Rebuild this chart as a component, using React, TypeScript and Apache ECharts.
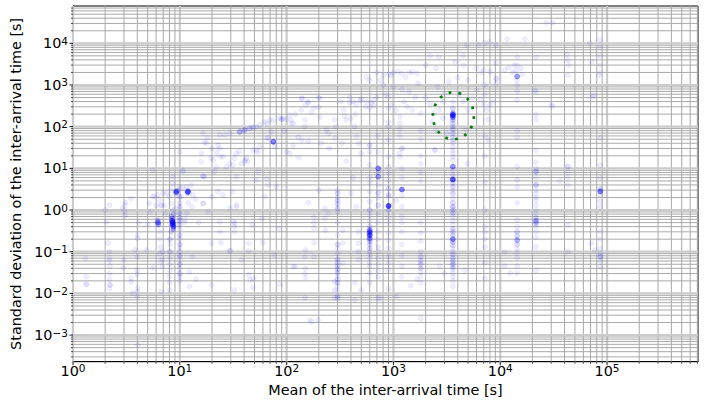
import { useEffect, useRef } from "react";
import * as echarts from "echarts";

// [mean inter-arrival time (s), std of inter-arrival time (s), overlapping points]
type Pt = [number, number, number];

const X_MIN = 1;
const X_MAX = 7.1e5;
const Y_MIN = 2.3e-4;
const Y_MAX = 7.85e4;

const xDecades = [1, 10, 100, 1000, 10000, 100000];
const yDecades = [0.0001, 0.001, 0.01, 0.1, 1, 10, 100, 1000, 10000];
const minorSteps = [2, 3, 4, 5, 6, 7, 8, 9];

const xTitle = "Mean of the inter-arrival time [s]";
const yTitle = "Standard deviation of the inter-arrival time [s]";

// highlighted host (dotted ring)
const highlight: [number, number] = [3640, 182];

const underTwenty: Pt[] = [
  [1.31, 0.069, 1], [1.33, 0.025, 1], [1.33, 0.0165, 2],
  [2.05, 0.52, 1], [2.13, 0.16, 1], [2.2, 1.32, 1], [2.2, 0.1, 1], [2.2, 0.07, 1], [2.2, 0.06, 1],
  [2.22, 0.045, 1], [2.2, 0.03, 1], [2.2, 0.022, 1], [2.22, 0.016, 2], [2.2, 0.013, 1], [2.0, 1.0, 1],
  [3.05, 1.3, 1], [3.05, 0.95, 1], [3.1, 0.75, 1], [2.9, 1.1, 1], [3.0, 0.063, 1], [2.95, 0.041, 1], [3.1, 1.5, 1],
  [3.5, 0.023, 1], [3.5, 0.019, 1], [3.6, 0.0103, 1], [4.06, 0.0135, 1], [3.8, 0.11, 1], [4.0, 0.075, 1],
  [4.06, 0.00058, 1], [4.0, 0.036, 1], [4.0, 0.028, 1], [4.0, 0.011, 1], [4.0, 0.0083, 1], [4.0, 0.25, 1],
  [4.0, 0.21, 1], [3.5, 1.9, 1], [4.1, 0.5, 1],
  [4.86, 0.11, 1], [5.0, 0.45, 1], [5.2, 1.45, 1], [5.8, 2.1, 1], [6.0, 1.3, 1], [5.6, 0.041, 1],
  [5.6, 2.1, 1], [5.6, 9.1, 1], [5.3, 0.9, 1],
  [6.25, 0.5, 8], [6.3, 0.45, 5], [6.2, 0.55, 3], [6.4, 0.6, 1], [6.25, 2.3, 1], [6.4, 1.74, 1], [6.6, 1.3, 1],
  [6.5, 0.3, 1], [6.5, 0.2, 1], [6.6, 0.13, 1], [6.5, 0.09, 1], [6.6, 0.06, 1], [6.7, 0.011, 1], [6.85, 0.1, 1],
  [6.85, 0.065, 1], [6.85, 0.045, 1], [6.75, 1.3, 1], [7.0, 2.5, 1], [7.2, 1.3, 1], [7.3, 0.83, 1],
  [8.6, 0.5, 20], [8.6, 0.45, 18], [8.5, 0.55, 14], [8.7, 0.4, 10], [8.5, 0.62, 6], [8.7, 0.35, 4], [8.4, 0.7, 3],
  [8.8, 0.8, 2], [8.3, 0.3, 2], [8.1, 0.2, 2], [8.1, 0.15, 1], [8.1, 0.1, 2], [8.1, 0.07, 1], [8.1, 0.05, 1],
  [8.1, 0.035, 1], [8.0, 0.025, 1], [8.0, 0.018, 1], [8.1, 0.012, 1], [7.5, 2.5, 1], [8.0, 2.1, 1], [8.3, 1.45, 1],
  [8.3, 3.0, 1], [8.6, 4.4, 1], [8.6, 6.3, 1], [8.6, 1.0, 1], [9.0, 1.1, 1],
  [9.3, 2.75, 12], [9.2, 2.6, 3], [9.4, 2.9, 2],
  [9.8, 3.0, 1], [10.0, 3.6, 1], [9.9, 2.1, 2], [10.0, 1.5, 1], [10.0, 1.2, 2], [10.0, 0.85, 2], [10.0, 0.65, 2],
  [10.0, 0.55, 2], [9.9, 0.45, 2], [10.0, 0.35, 1], [10.0, 0.25, 2], [10.0, 0.2, 1], [10.0, 0.15, 2], [10.0, 0.12, 1],
  [10.0, 0.1, 1], [10.0, 0.08, 2], [10.0, 0.065, 1], [10.0, 0.05, 2], [10.0, 0.04, 1], [10.0, 0.03, 2],
  [10.0, 0.025, 1], [10.0, 0.02, 1], [10.0, 25, 1], [10.7, 9.1, 1], [10.7, 8.3, 1],
  [11.9, 2.75, 14], [11.8, 2.6, 3], [12.0, 2.9, 2], [10.7, 3.3, 1], [11.5, 3.6, 1], [12.8, 4.0, 1], [12.3, 2.5, 1],
  [13.3, 2.3, 1], [10.3, 2.1, 1], [12, 1.5, 1], [11.6, 0.83, 1], [13, 1.2, 1], [12.3, 0.033, 1], [12.3, 0.0145, 1],
  [13.1, 0.076, 1], [14.1, 0.022, 1], [11.0, 0.5, 1], [11.2, 0.6, 1],
  [16.5, 6.5, 2], [17, 6.3, 1], [16.5, 1.45, 1], [16.6, 1.45, 1], [18.3, 0.91, 1], [19.8, 0.016, 1], [19.9, 0.16, 1],
  [20, 2.1, 1], [15.9, 23, 1], [17.7, 40, 1], [17.1, 42, 1], [19.6, 17.7, 1], [15.8, 14.4, 1], [15, 0.5, 1], [14, 1.8, 1],
  [16.5, 70, 1], [18, 55, 1], [20, 30, 1], [22, 24, 1], [24, 19, 1],
];

const twentyToTwoFifty: Pt[] = [
  [22.8, 36, 1], [23.6, 30, 1], [22, 11, 1], [21, 8.3, 1], [20.5, 15.8, 1], [25.4, 19, 1], [29.3, 13, 1], [27.3, 11, 1],
  [31.5, 12, 1], [33.8, 23, 1], [32.5, 17.4, 1], [37.7, 13, 1], [40.4, 14.4, 1], [42, 17.4, 1], [33.8, 6.3, 1],
  [54, 8.3, 1], [52, 5.2, 1], [65, 5.75, 1], [67, 4, 1], [80, 3.6, 1], [29.3, 69, 1], [26.3, 63, 1], [23.6, 63, 1],
  [36.4, 75, 4], [40.4, 83, 4], [45, 91, 2], [48.5, 96, 2], [56, 109, 1], [65, 120, 1], [75, 144, 1], [86, 158, 1],
  [52, 27, 1], [54, 25, 1], [65, 52, 1], [67, 55, 1], [75, 43.5, 10], [72, 75, 1], [62.5, 130, 1], [69.5, 144, 1],
  [43.5, 14.4, 1], [52, 100, 1], [48.5, 27.5, 1], [56, 33, 1], [41, 16, 1], [36, 25, 1],
  [78, 33, 1], [107, 23, 1], [138, 48, 1], [107, 190, 1], [115, 120, 1], [90, 150, 2],
  [22.8, 2.75, 1], [25.4, 2.3, 1], [31, 2.75, 1], [33.8, 1.2, 1], [34, 1.32, 1], [29.5, 1.1, 1], [62.5, 2.1, 1],
  [23.6, 0.52, 1], [23.8, 0.3, 1], [24.2, 0.165, 1], [29.5, 0.106, 2], [32.6, 0.48, 1], [32.6, 0.4, 1],
  [32.6, 0.3, 1], [32, 0.52, 1], [32.6, 0.012, 1], [37.8, 0.063, 1], [44, 0.16, 1], [44, 0.106, 1], [44, 0.028, 1],
  [45.5, 0.021, 1], [47.7, 0.44, 1], [48.5, 0.023, 1], [48.5, 0.0137, 1], [58.5, 0.63, 1], [60, 0.165, 1],
  [77, 0.083, 1], [84, 0.36, 1], [86, 0.0165, 1], [120, 0.044, 1], [115, 0.044, 1],
  [150, 0.11, 1], [148, 0.075, 1], [150, 0.04, 1], [148, 0.03, 1], [150, 0.024, 1], [148, 0.0078, 1],
  [172, 0.0021, 1], [197, 0.0023, 1], [165, 0.0023, 1], [180, 0.68, 1], [180, 0.5, 1], [180, 0.37, 1],
  [180, 0.165, 1], [180, 0.075, 1], [228, 1.1, 1], [228, 0.64, 1], [230, 0.33, 1], [245, 0.83, 1], [200, 3.0, 1],
  [160, 1.5, 1],
  [92, 160, 1], [100, 150, 1], [110, 145, 1], [128, 57, 1], [140, 480, 1], [158, 400, 1], [137, 250, 1],
  [148, 145, 1], [148, 100, 1], [205, 475, 1], [205, 170, 1], [235, 83, 1], [245, 69, 1], [138, 476, 1],
  [198, 500, 1], [150, 330, 1], [170, 220, 1], [200, 290, 1], [115, 35, 1], [100, 25, 1], [130, 18, 1],
  [95, 80, 1], [110, 120, 1], [120, 200, 1], [160, 45, 1], [210, 40, 1], [250, 30, 1], [160, 380, 1], [180, 280, 1],
];

const fourMinToFortyMin: Pt[] = [
  [300, 3, 1], [300, 2.5, 2], [300, 2, 1], [300, 1.7, 2], [300, 1.4, 2], [300, 1.1, 2], [300, 0.9, 1], [300, 0.5, 1],
  [300, 0.25, 1], [300, 0.15, 2], [300, 0.12, 1], [300, 0.09, 1], [300, 0.065, 2], [300, 0.055, 2], [300, 0.045, 2],
  [300, 0.038, 2], [300, 0.032, 2], [300, 0.027, 1], [300, 0.022, 2], [300, 0.018, 2], [300, 0.015, 1],
  [300, 0.012, 1], [300, 0.0085, 2], [300, 0.0075, 1],
  [281, 0.019, 1], [281, 0.012, 1], [281, 0.0078, 1], [335, 0.33, 1], [335, 0.16, 1], [335, 0.053, 1],
  [435, 0.018, 1], [435, 0.007, 1], [470, 0.3, 1], [470, 0.16, 1], [470, 0.1, 1], [470, 0.065, 1], [500, 0.012, 1],
  [280, 145, 1], [290, 100, 1], [285, 53, 1], [320, 400, 1], [340, 250, 1], [350, 180, 1], [360, 145, 1],
  [400, 160, 1], [430, 100, 1], [450, 60, 1], [470, 40, 1], [500, 23, 1], [390, 500, 1], [420, 400, 1],
  [450, 350, 1], [500, 450, 1], [550, 300, 1], [600, 280, 1], [650, 320, 1], [390, 380, 1], [440, 200, 1],
  [490, 430, 1], [560, 400, 1], [620, 370, 1], [330, 40, 1], [360, 15, 1], [420, 6, 1], [400, 2.5, 1], [450, 1.2, 1],
  [600, 36, 2], [600, 25, 1], [600, 12, 1], [600, 6, 1], [600, 4.4, 1], [600, 2.8, 1], [600, 1.6, 1], [600, 1.0, 2],
  [600, 0.75, 1], [600, 0.55, 1], [600, 0.4, 2], [600, 0.33, 8], [600, 0.29, 14], [600, 0.25, 14], [600, 0.21, 8],
  [600, 0.18, 3], [600, 0.15, 2], [600, 0.12, 2], [600, 0.1, 1], [600, 0.085, 1], [600, 0.07, 1], [600, 0.055, 1],
  [600, 0.045, 1], [600, 0.031, 1], [600, 0.018, 1], [560, 1570, 1], [600, 1300, 1],
  [720, 10, 8], [720, 8, 2], [720, 6.3, 6], [720, 4, 1], [720, 2.6, 2], [720, 2, 1], [720, 1.3, 2], [720, 0.8, 1],
  [720, 0.5, 1], [720, 0.3, 1], [720, 0.2, 1], [720, 0.13, 1], [720, 0.1, 1], [720, 0.07, 1], [720, 0.05, 1],
  [720, 0.035, 1], [720, 0.025, 1], [720, 0.0078, 1], [720, 60, 1], [720, 25, 1],
  [900, 520, 1], [900, 275, 1], [900, 130, 1], [900, 100, 1], [900, 48, 1], [900, 19, 1], [900, 11, 1],
  [900, 7.6, 1], [900, 5.2, 1], [900, 3.3, 2], [900, 2.3, 2], [900, 2.1, 1], [900, 1.25, 22], [900, 1.0, 2],
  [900, 0.69, 1], [900, 0.48, 1], [900, 0.28, 1], [900, 0.19, 1], [900, 0.12, 1], [900, 0.076, 1],
  [900, 0.053, 1], [900, 0.036, 1], [900, 0.013, 1], [750, 0.0076, 1], [1070, 0.0087, 1], [1070, 1.74, 1],
  [1150, 170, 1], [1150, 120, 1], [1150, 85, 1], [1150, 60, 1], [1200, 30, 2], [1150, 23, 1], [1150, 19, 1],
  [1200, 10, 1], [1200, 6, 1], [1200, 3.1, 10], [1200, 2.2, 1], [1200, 1.2, 1], [1200, 0.7, 1], [1200, 0.5, 1],
  [1200, 0.3, 1], [1200, 0.15, 1], [1200, 0.08, 1], [1200, 0.045, 1], [1200, 0.025, 1],
  [1800, 80, 1], [1800, 50, 1], [1800, 20, 1], [1800, 13, 1], [1800, 8, 1], [1800, 5, 1], [1800, 0.5, 1],
  [1800, 0.28, 1], [1800, 0.18, 1], [1800, 0.1, 1], [1800, 0.076, 2], [1800, 0.06, 2], [1800, 0.05, 2],
  [1800, 0.04, 2], [1800, 0.032, 1], [1800, 0.025, 1], [1800, 0.018, 1], [1800, 0.0025, 1], [1450, 0.0153, 1],
  [1670, 0.022, 1],
  [700, 2000, 1], [800, 1700, 1], [900, 1800, 1], [1000, 2000, 1], [1200, 1900, 1], [1400, 2000, 1],
  [1650, 1900, 1], [750, 1300, 1], [950, 1700, 1], [1100, 2100, 1], [1300, 1550, 1], [1500, 2100, 1],
  [1000, 900, 1], [1200, 800, 1], [1400, 700, 1], [1600, 500, 1], [1800, 210, 1], [1700, 1100, 1], [800, 1000, 1],
  [850, 600, 1], [950, 330, 1], [1050, 250, 1], [1250, 400, 1], [1350, 300, 1], [1500, 250, 1], [700, 500, 1],
  [650, 420, 1], [2000, 500, 1], [2200, 350, 1], [2400, 210, 1], [2200, 5000, 1], [2500, 2500, 1], [2600, 900, 1],
  [2650, 4700, 1], [2000, 3000, 1], [2450, 27.5, 2], [2700, 0.045, 1], [3000, 0.03, 1], [2300, 130, 1],
  [2500, 80, 1], [2700, 250, 1], [2900, 160, 1], [3200, 70, 1],
];

const hourly: Pt[] = [
  [3600, 395, 1], [3600, 275, 2], [3600, 210, 6], [3600, 190, 30], [3600, 172, 6], [3600, 165, 3], [3600, 144, 3],
  [3600, 120, 2], [3600, 100, 2],
  [3600, 85, 2], [3600, 69, 2], [3600, 58, 1], [3600, 48, 2], [3600, 40, 1], [3600, 33, 1], [3600, 27, 1],
  [3600, 23, 1], [3600, 19, 1], [3600, 15.8, 1], [3600, 11, 8], [3600, 9, 1], [3600, 7, 2], [3600, 5.4, 18],
  [3600, 4.5, 2], [3600, 3.6, 2], [3600, 3, 1], [3600, 2.5, 2], [3600, 1.9, 1], [3600, 1.5, 2], [3600, 1.2, 3],
  [3600, 1, 2], [3600, 0.85, 2], [3600, 0.7, 1], [3600, 0.55, 1], [3600, 0.45, 1], [3600, 0.35, 2], [3600, 0.3, 2],
  [3600, 0.25, 2], [3600, 0.2, 8], [3600, 0.17, 3], [3600, 0.14, 2], [3600, 0.12, 1], [3600, 0.1, 1],
  [3600, 0.085, 2], [3600, 0.07, 2], [3600, 0.06, 2], [3600, 0.05, 3], [3600, 0.042, 2], [3600, 0.037, 1],
  [3600, 0.03, 1], [3600, 0.025, 1], [3600, 0.02, 1], [3600, 0.0145, 1],
  [3800, 3600, 1], [4530, 3000, 1], [4650, 0.036, 1], [4850, 9050, 1], [4900, 13, 1], [4800, 83, 1], [4500, 5000, 1],
  [5000, 1300, 1], [4000, 1500, 1], [4200, 600, 1], [4500, 400, 1], [5000, 250, 1], [5500, 500, 1], [6000, 750, 1],
  [6500, 450, 1], [7000, 350, 1], [8000, 330, 1], [8500, 400, 1], [6600, 2000, 1], [6000, 2500, 1], [7000, 2300, 1],
  [8000, 2100, 1], [6300, 9050, 1], [7200, 10000, 1], [8000, 11000, 1], [9100, 9000, 1], [9100, 1440, 1],
  [9100, 1100, 1], [3300, 1200, 1], [3000, 600, 1], [2900, 400, 1],
  [7200, 1000, 1], [7200, 600, 1], [7400, 250, 1], [7700, 150, 1], [7200, 60, 1], [7700, 48, 1], [7200, 20, 1],
  [7200, 4.7, 1], [7200, 1, 1], [7200, 0.4, 1], [7200, 0.3, 1], [7200, 0.2, 1], [7200, 0.13, 1], [7200, 0.054, 1],
  [7200, 0.023, 1],
];

const multiHour: Pt[] = [
  [14400, 4700, 1], [14400, 3000, 1], [14000, 2200, 1], [14400, 1600, 7], [14400, 1300, 1], [14400, 1000, 1],
  [14400, 700, 1], [14400, 430, 1], [14400, 80, 1], [14400, 55, 1], [14400, 11, 1], [14400, 5.2, 1],
  [14400, 3.6, 1], [14400, 1.5, 1], [14400, 0.58, 1], [14400, 0.4, 1], [14400, 0.3, 2], [14400, 0.24, 2],
  [14400, 0.19, 5], [14400, 0.15, 2], [14400, 0.12, 1], [14400, 0.093, 1], [14400, 0.07, 1], [14400, 0.045, 1],
  [14400, 0.031, 1],
  [11600, 12600, 1], [17000, 12600, 1], [9000, 3300, 1], [9300, 1400, 1], [12000, 2600, 1], [13000, 2000, 1],
  [13500, 3000, 1], [15500, 2500, 1], [11000, 2300, 1], [16000, 1800, 1],
  [11000, 0.097, 1], [11000, 0.045, 1], [12400, 0.031, 1],
  [21600, 4700, 1], [21600, 700, 1], [21600, 200, 1], [21600, 150, 1], [21600, 27, 1], [21600, 14, 1],
  [21600, 10, 1], [21600, 8.3, 3], [21600, 6, 1], [21600, 4, 3], [21600, 3, 1], [21600, 2.5, 1], [21600, 2, 1],
  [21600, 1.7, 1], [21600, 1.3, 1], [21600, 1, 1], [21600, 0.8, 1], [21600, 0.65, 2], [21600, 0.55, 5],
  [21600, 0.48, 3], [21600, 0.4, 1], [21600, 0.3, 1], [21600, 0.22, 1], [21600, 0.13, 1], [21600, 0.036, 1],
  [21000, 750, 1],
  [27000, 31000, 1], [31000, 31000, 1], [31000, 310, 1], [30000, 330, 1],
  [42000, 5500, 1], [43000, 4000, 1], [44000, 3000, 1], [43000, 1700, 1], [43000, 11, 2], [43000, 8, 1],
  [43000, 6, 1], [43000, 4, 1], [43000, 0.44, 1], [43000, 0.1, 1], [36000, 5, 1],
];

const daily: Pt[] = [
  [69000, 10000, 1], [72000, 3600, 1], [73000, 520, 1], [84000, 1700, 1], [86400, 12000, 1], [86400, 8000, 1],
  [86400, 5000, 1], [86400, 3000, 1], [86400, 2000, 1], [86400, 53, 1], [86400, 12, 1], [86400, 6, 1],
  [86400, 3.2, 2], [86400, 2.8, 10], [86400, 2.3, 1], [86400, 1.6, 1], [86400, 1.2, 1], [86400, 0.3, 1],
  [86400, 0.2, 1], [86400, 0.12, 1], [86400, 0.09, 1], [86400, 0.076, 3], [86400, 0.06, 1], [86400, 0.043, 1],
  [71000, 0.16, 1], [77000, 0.11, 1], [75000, 570, 1],
];

const POINT_ALPHA = 0.085;
const FONT = "DejaVu Sans";

const supLabel = (v: number) => {
  const e = Math.round(Math.log10(v));
  return `{b|10}{s|${e < 0 ? "\u2212" + -e : e}}`;
};

const labelRich = {
  b: { fontFamily: FONT, fontSize: 14.4, color: "#000", lineHeight: 16 },
  s: { fontFamily: FONT, fontSize: 10.5, color: "#000", verticalAlign: "top" as const, lineHeight: 11 },
};

// major/minor tick positions inside the axis range
const ticksFor = (decades: number[], lo: number, hi: number) => {
  const out: { v: number; major: boolean }[] = [];
  decades.forEach((d) => {
    if (d >= lo && d <= hi) out.push({ v: d, major: true });
    minorSteps.forEach((k) => {
      const v = k * d;
      if (v > lo && v < hi) out.push({ v, major: false });
    });
  });
  return out;
};

export default function App() {
  const ref = useRef<HTMLDivElement>(null);

  useEffect(() => {
    const chart = echarts.init(ref.current!, null, { renderer: "svg" });

    const all = [...underTwenty, ...twentyToTwoFifty, ...fourMinToFortyMin, ...hourly, ...multiHour, ...daily];
    const scatterData = all
      .slice()
      .sort((a, b) => a[2] - b[2])
      .map(([x, y, n]) => {
        const a = 1 - Math.pow(1 - POINT_ALPHA, n);
        const c = `rgba(0,0,255,${a.toFixed(3)})`;
        return { value: [x, y], itemStyle: { color: c, borderColor: c } };
      });

    const xTicks = ticksFor(xDecades, X_MIN, X_MAX);
    const yTicks = ticksFor(yDecades, Y_MIN, Y_MAX);

    const gridColor = "#a9a9a9";
    const majorGrid = "#cbcbcb";

    chart.setOption({
      animation: false,
      backgroundColor: "#fff",
      grid: {
        left: 73,
        right: 12,
        top: 6,
        bottom: 42.3,
        show: true,
        borderColor: "#000",
        borderWidth: 1,
        backgroundColor: "transparent",
      },
      xAxis: {
        type: "log",
        logBase: 10,
        min: X_MIN,
        max: X_MAX,
        name: xTitle,
        nameLocation: "middle",
        nameGap: 20,
        nameTextStyle: { fontFamily: FONT, fontSize: 14.4, color: "#000" },
        axisLine: { show: true, lineStyle: { color: "#000", width: 1 } },
        axisTick: { show: false },
        splitLine: { show: false },
        minorTick: { show: false },
        minorSplitLine: { show: false },
        axisLabel: {
          margin: 1,
          showMinLabel: true,
          showMaxLabel: false,
          formatter: (v: number) => supLabel(v),
          rich: labelRich,
        },
      },
      yAxis: {
        type: "log",
        logBase: 10,
        min: Y_MIN,
        max: Y_MAX,
        name: yTitle,
        nameLocation: "middle",
        nameRotate: 90,
        nameGap: 41,
        nameTextStyle: { fontFamily: FONT, fontSize: 14.4, color: "#000" },
        axisLine: { show: true, lineStyle: { color: "#000", width: 1 } },
        axisTick: { show: false },
        splitLine: { show: false },
        minorTick: { show: false },
        minorSplitLine: { show: false },
        axisLabel: {
          margin: 5,
          showMinLabel: false,
          showMaxLabel: false,
          formatter: (v: number) => supLabel(v),
          rich: labelRich,
        },
      },
      series: [
        {
          type: "custom",
          name: "x grid",
          z: 1,
          silent: true,
          clip: false,
          data: xTicks.map((t) => ({ value: [t.v, 1, t.major ? 1 : 0] })),
          renderItem: (params: any, api: any) => {
            const cs = params.coordSys;
            const p = api.coord([api.value(0), 1]);
            const major = api.value(2) === 1;
            const bottom = cs.y + cs.height;
            return {
              type: "group",
              children: [
                {
                  type: "line",
                  shape: { x1: p[0], y1: cs.y, x2: p[0], y2: bottom },
                  style: { stroke: major ? majorGrid : gridColor, lineWidth: major ? 2.2 : 1 },
                },
                {
                  type: "line",
                  shape: { x1: p[0], y1: bottom, x2: p[0], y2: bottom + (major ? 3.5 : 2) },
                  style: { stroke: "#000", lineWidth: major ? 0.9 : 0.7 },
                },
              ],
            };
          },
        },
        {
          type: "custom",
          name: "y grid",
          z: 1,
          silent: true,
          clip: false,
          data: yTicks.map((t) => ({ value: [1, t.v, t.major ? 1 : 0] })),
          renderItem: (params: any, api: any) => {
            const cs = params.coordSys;
            const p = api.coord([1, api.value(1)]);
            const major = api.value(2) === 1;
            return {
              type: "group",
              children: [
                {
                  type: "line",
                  shape: { x1: cs.x, y1: p[1], x2: cs.x + cs.width, y2: p[1] },
                  style: { stroke: major ? majorGrid : gridColor, lineWidth: major ? 2.2 : 1 },
                },
                {
                  type: "line",
                  shape: { x1: cs.x - (major ? 3.5 : 2), y1: p[1], x2: cs.x, y2: p[1] },
                  style: { stroke: "#000", lineWidth: major ? 0.9 : 0.7 },
                },
              ],
            };
          },
        },
        {
          type: "scatter",
          name: "hosts",
          z: 3,
          symbol: "circle",
          symbolSize: 5,
          itemStyle: { borderWidth: 0.8 },
          data: scatterData,
        },
        {
          type: "custom",
          name: "highlight",
          z: 4,
          silent: true,
          clip: false,
          data: [highlight],
          renderItem: (_params: any, api: any) => {
            const p = api.coord([api.value(0), api.value(1)]);
            return {
              type: "ellipse",
              shape: { cx: p[0], cy: p[1], rx: 20.5, ry: 23.5 },
              style: { fill: "none", stroke: "#008000", lineWidth: 2.7, lineDash: [2.7, 7.2] },
            };
          },
        },
      ],
    });

    return () => chart.dispose();
  }, []);

  return (
    <div
      ref={ref}
      style={{ position: "fixed", left: 0, top: 0, width: 710, height: 404, background: "#fff" }}
    />
  );
}
